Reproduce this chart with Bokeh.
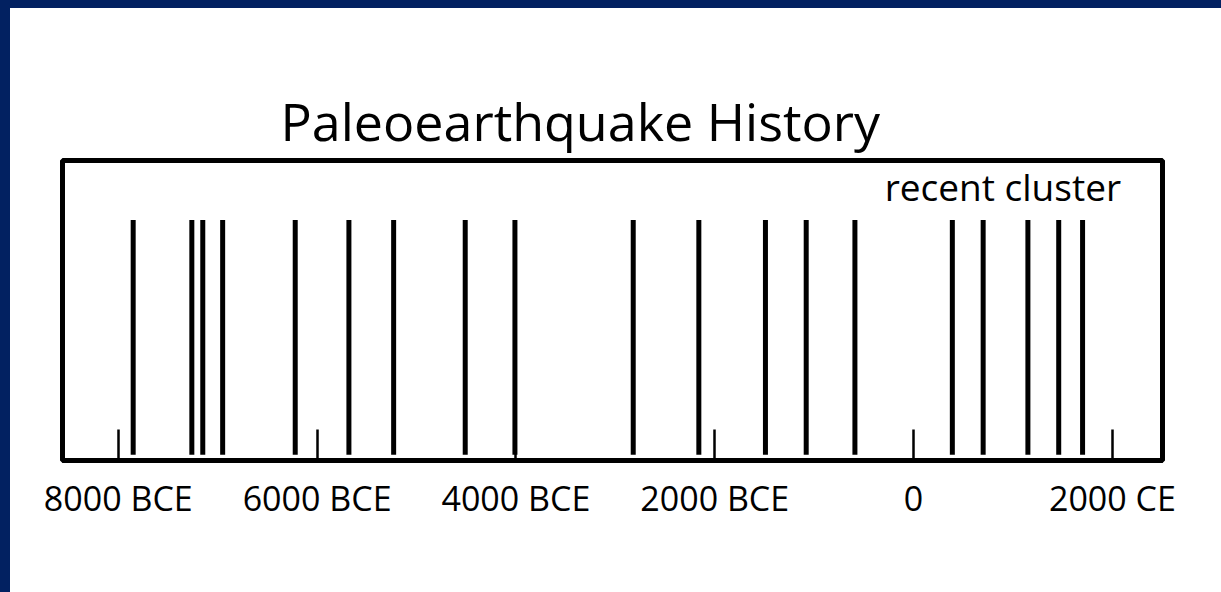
from bokeh.plotting import figure
from bokeh.models import Range1d, FixedTicker, Label, Div
from bokeh.layouts import column, row
from bokeh.embed import file_html
from bokeh.resources import INLINE

# ---- data ----
TITLE = "Paleoearthquake History"
CLUSTER_LABEL = "recent cluster"
EVENT_YEARS = [-7850, -7260, -7150, -6950, -6220, -5680, -5230, -4510, -4010,
               -2820, -2160, -1490, -1080, -590, 390, 700, 1150, 1460, 1700]
TICK_YEARS = [-8000, -6000, -4000, -2000, 0, 2000]
TICK_LABELS = ["8000 BCE", "6000 BCE", "4000 BCE", "2000 BCE", "0", "2000 CE"]

FONT = "Open Sans"
NAVY = "#022161"

p = figure(width=1211, height=584, output_backend="svg", toolbar_location=None,
           x_range=Range1d(-8561, 2504), y_range=Range1d(0, 1),
           min_border_left=52, min_border_right=59,
           min_border_top=152, min_border_bottom=132)

p.background_fill_color = "white"
p.border_fill_color = "white"
p.outline_line_color = "black"
p.outline_line_width = 5
p.xgrid.visible = False
p.ygrid.visible = False
p.yaxis.visible = False

p.title.text = TITLE
p.title.text_font = FONT
p.title.text_font_size = "52px"
p.title.text_font_style = "normal"
p.title.text_color = "black"
p.title.align = "left"
p.title.offset = 218
p.title.standoff = 10

ax = p.xaxis[0]
ax.ticker = FixedTicker(ticks=TICK_YEARS)
ax.major_label_overrides = {t: l for t, l in zip(TICK_YEARS, TICK_LABELS)}
ax.axis_line_color = "black"
ax.axis_line_width = 5
ax.major_tick_in = 31
ax.major_tick_out = 0
ax.major_tick_line_width = 2.5
ax.major_tick_line_color = "black"
ax.minor_tick_line_color = None
ax.major_label_text_font = FONT
ax.major_label_text_font_size = "34px"
ax.major_label_text_color = "black"
ax.major_label_standoff = 14

# event lines
p.segment(x0=EVENT_YEARS, y0=[0.019] * len(EVENT_YEARS),
          x1=EVENT_YEARS, y1=[0.802] * len(EVENT_YEARS),
          line_color="black", line_width=5, line_cap="butt")

p.add_layout(Label(x=898, y=0.912, text=CLUSTER_LABEL, text_font=FONT,
                   text_font_size="37px", text_color="black",
                   text_align="center", text_baseline="alphabetic"))

top_bar = Div(text="", width=1221, height=8, margin=0,
              styles={"background-color": NAVY})
left_bar = Div(text="", width=10, height=584, margin=0,
               styles={"background-color": NAVY})
layout = column(top_bar, row(left_bar, p, spacing=0), spacing=0)

open("out.html", "w").write(file_html(layout, INLINE))
